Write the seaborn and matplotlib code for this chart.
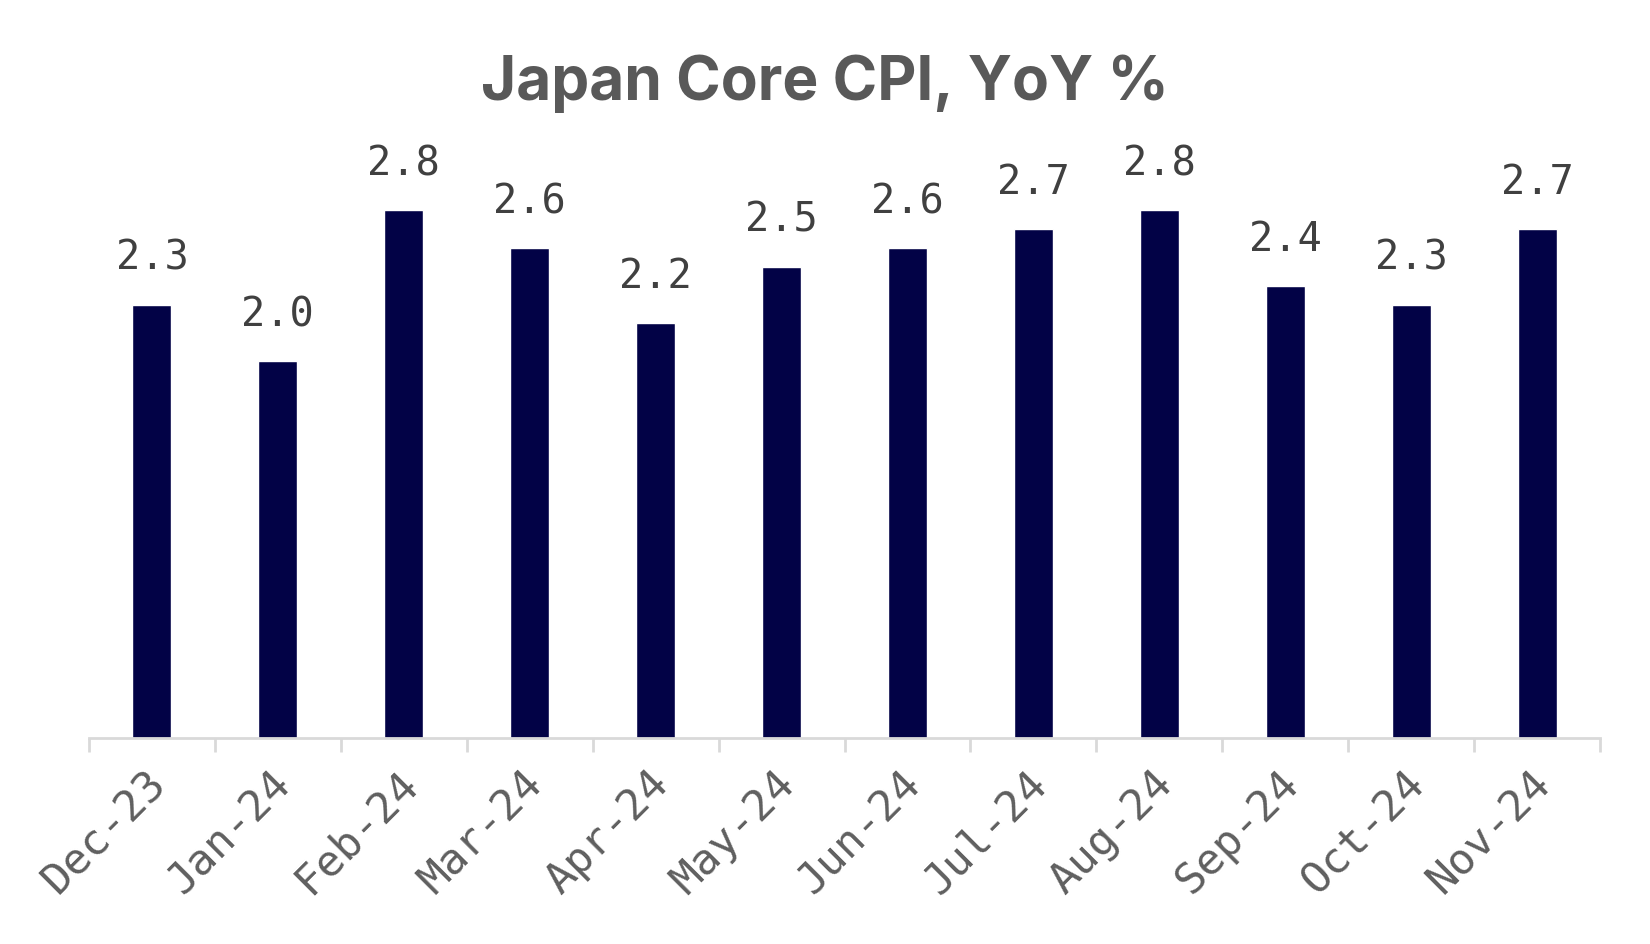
import matplotlib
matplotlib.use("Agg")
import matplotlib.pyplot as plt
import matplotlib.transforms as mtransforms
import seaborn as sns
import pandas as pd
import numpy as np
from matplotlib.ticker import FixedLocator

months = ["Dec-23", "Jan-24", "Feb-24", "Mar-24", "Apr-24", "May-24",
          "Jun-24", "Jul-24", "Aug-24", "Sep-24", "Oct-24", "Nov-24"]
values = [2.3, 2.0, 2.8, 2.6, 2.2, 2.5, 2.6, 2.7, 2.8, 2.4, 2.3, 2.7]

df = pd.DataFrame({"month": months, "value": values})

sns.set_theme(style="white")
plt.rcParams["font.family"] = ["DejaVu Sans"]

fig = plt.figure(figsize=(16.5, 9.44), dpi=100)
ax = fig.add_axes([89/1650, 0.2182, (1600-89)/1650, 0.857-0.2182])

sns.barplot(data=df, x="month", y="value", color="#020246", width=0.31,
            saturation=1, ax=ax)

ax.set_xlim(-0.5, len(months) - 0.5)
ax.set_ylim(0, 3.2)

for i, v in enumerate(values):
    ax.annotate(f"{v:.1f}", (i, v), xytext=(0, 46), textcoords="offset pixels",
                ha="center", va="center", fontsize=29,
                family="DejaVu Sans Mono", color="#404040")

for s in ["top", "right", "left"]:
    ax.spines[s].set_visible(False)
ax.spines["bottom"].set_color("#d9d9d9")
ax.spines["bottom"].set_linewidth(2)
ax.set_yticks([])
ax.set_xlabel("")
ax.set_ylabel("")

ax.xaxis.set_minor_locator(FixedLocator(np.arange(-0.5, len(months), 1.0)))
ax.tick_params(axis="x", which="minor", length=10, width=2, color="#d9d9d9",
               bottom=True)
ax.tick_params(axis="x", which="major", length=0, pad=18)
ax.set_xticks(range(len(months)))
ax.set_xticklabels(months, rotation=45, ha="right", rotation_mode="anchor",
                   fontsize=31, family="DejaVu Sans Mono", color="#5f5f5f")
shift = mtransforms.ScaledTranslation(-8/100, 0, fig.dpi_scale_trans)
for lab in ax.get_xticklabels():
    lab.set_transform(lab.get_transform() + shift)

fig.text(0.5, 1 - 84/944, "Japan Core CPI, YoY %", ha="center", va="center",
         fontsize=43.5, fontweight="bold", family="Inter", color="#595959")

fig.savefig("out.png", dpi=100, facecolor="white")
